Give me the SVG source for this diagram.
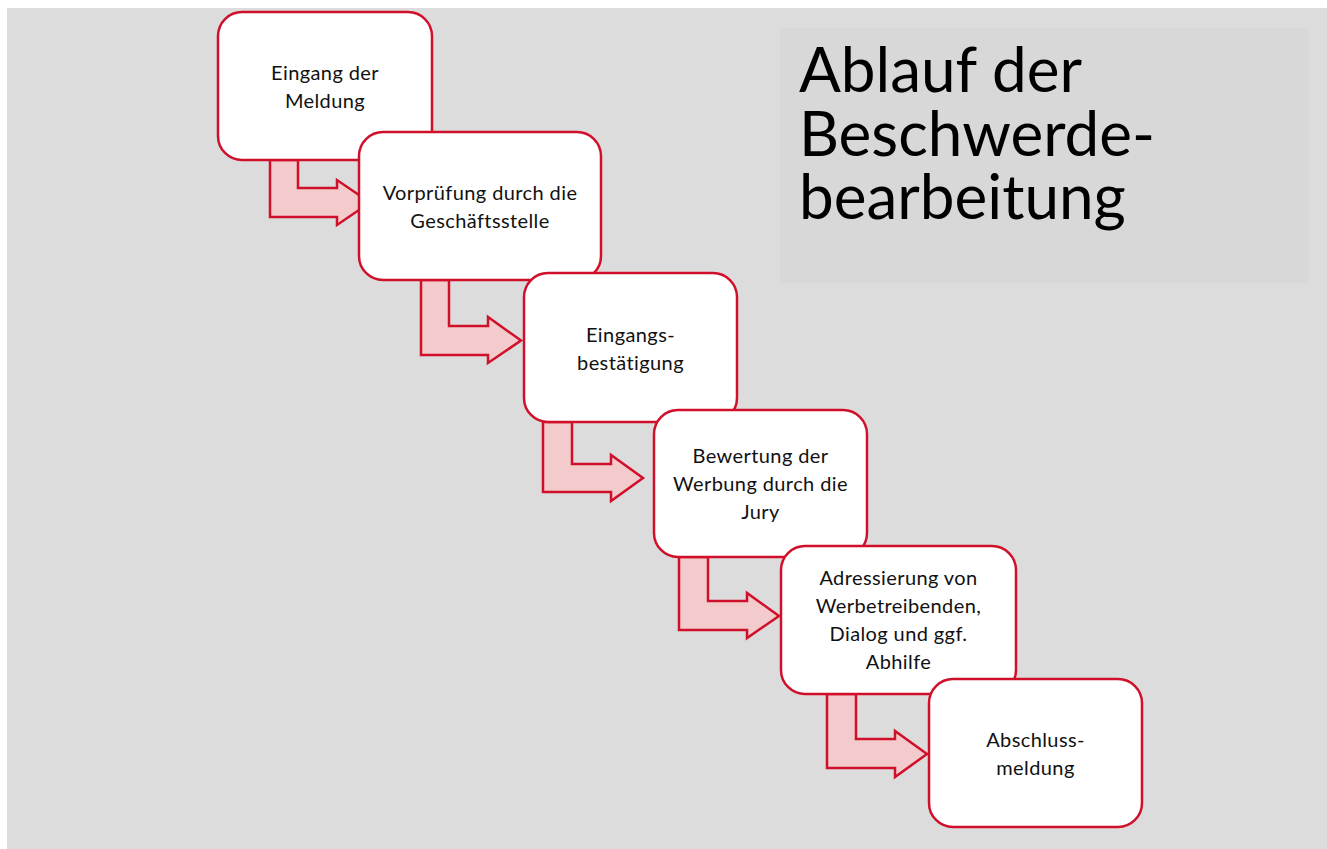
<svg xmlns="http://www.w3.org/2000/svg" width="1327" height="849" viewBox="0 0 1327 849">
<style>
.box{fill:#ffffff;stroke:#D0102A;stroke-width:2.5}
.arr{fill:#F4CBCD;stroke:#D0102A;stroke-width:2.5;stroke-linejoin:miter}
.t{font-family:Lato,"Noto Sans","Liberation Sans",sans-serif;font-size:20px;letter-spacing:0.4px;fill:#111111;text-anchor:middle}
.title{font-family:Lato,"Noto Sans","Liberation Sans",sans-serif;font-size:62px;fill:#000000}
</style>
<rect x="0" y="0" width="1327" height="849" fill="#ffffff"/>
<rect x="7" y="8" width="1320" height="841" fill="#DCDCDC"/>
<g id="title">
<rect x="780" y="28" width="529" height="255" fill="#D8D8D8"/>
<text class="title" x="799" y="92">Ablauf der</text>
<text class="title" x="799" y="156">Beschwerde-</text>
<text class="title" x="799" y="219">bearbeitung</text>
</g>
<g id="connectors">
<path class="arr" d="M270,160 L270,217 L337,217 L337,225 L370,202.5 L337,180 L337,188 L298,188 L298,160 Z"/>
<path class="arr" d="M421,280 L421,355 L488,355 L488,363 L521,340.5 L488,317 L488,326 L449,326 L449,280 Z"/>
<path class="arr" d="M543,422 L543,492 L611,492 L611,501 L643,478 L611,455 L611,464 L572,464 L572,422 Z"/>
<path class="arr" d="M679,557 L679,630 L747,630 L747,638 L779,616 L747,593 L747,601 L708,601 L708,557 Z"/>
<path class="arr" d="M827,694 L827,768 L895,768 L895,777 L927,754 L895,731 L895,739 L856,739 L856,694 Z"/>
</g>
<g id="n1">
<rect class="box" x="218" y="12" width="214" height="148" rx="24"/>
<text class="t" x="325" y="80">Eingang der</text>
<text class="t" x="325" y="108">Meldung</text>
</g>
<g id="n2">
<rect class="box" x="359" y="132" width="242" height="148" rx="24"/>
<text class="t" x="480" y="200">Vorprüfung durch die</text>
<text class="t" x="480" y="228">Geschäftsstelle</text>
</g>
<g id="n3">
<rect class="box" x="524" y="273" width="213" height="149" rx="24"/>
<text class="t" x="630.5" y="341.5">Eingangs-</text>
<text class="t" x="630.5" y="369.5">bestätigung</text>
</g>
<g id="n4">
<rect class="box" x="654" y="410" width="213" height="147" rx="24"/>
<text class="t" x="760.5" y="463">Bewertung der</text>
<text class="t" x="760.5" y="491">Werbung durch die</text>
<text class="t" x="760.5" y="519">Jury</text>
</g>
<g id="n5">
<rect class="box" x="781" y="546" width="235" height="148" rx="24"/>
<text class="t" x="898.5" y="585">Adressierung von</text>
<text class="t" x="898.5" y="613">Werbetreibenden,</text>
<text class="t" x="898.5" y="641">Dialog und ggf.</text>
<text class="t" x="898.5" y="669">Abhilfe</text>
</g>
<g id="n6">
<rect class="box" x="929" y="679" width="213" height="148" rx="24"/>
<text class="t" x="1035.5" y="747">Abschluss-</text>
<text class="t" x="1035.5" y="775">meldung</text>
</g>
</svg>
